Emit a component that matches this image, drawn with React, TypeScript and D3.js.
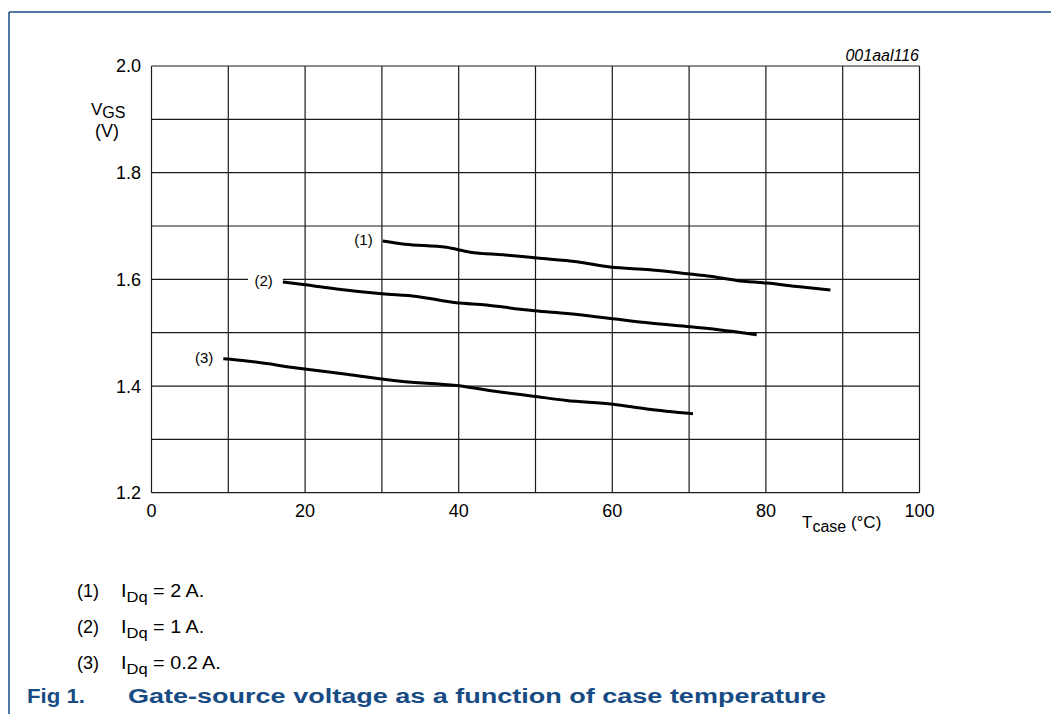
import React, { useEffect, useRef } from 'react';
import * as d3 from 'd3';

// values: [Tcase °C, VGS V]
const curve1 = [
  [30.1, 1.672], [33.0, 1.666], [38.4, 1.660], [41.5, 1.651], [45.8, 1.646],
  [50.2, 1.640], [55.4, 1.633], [59.7, 1.623], [64.9, 1.618], [70.1, 1.610],
  [72.7, 1.606], [76.2, 1.598], [80.1, 1.593], [84.4, 1.586], [88.4, 1.580],
];
const curve2 = [
  [17.1, 1.595], [20.0, 1.590], [24.1, 1.582], [30.0, 1.573], [34.5, 1.568],
  [39.7, 1.556], [43.6, 1.552], [48.0, 1.544], [49.9, 1.541], [54.1, 1.536],
  [60.1, 1.526], [64.9, 1.518], [70.1, 1.511], [73.6, 1.506], [78.8, 1.496],
];
const curve3 = [
  [9.35, 1.451], [12.4, 1.447], [18.9, 1.434], [25.4, 1.422], [32.4, 1.409],
  [39.7, 1.401], [45.4, 1.389], [49.7, 1.381], [54.0, 1.373], [60.1, 1.366],
  [64.5, 1.357], [70.5, 1.348],
];
const curveLabels = ['(1)', '(2)', '(3)'];
const xTicks = [0, 20, 40, 60, 80, 100];
const yTicks = [1.2, 1.4, 1.6, 1.8, 2.0];
const legendText = ['= 2 A.', '= 1 A.', '= 0.2 A.'];

const W = 1051;
const H = 714;
const blue = '#174b84';

export default function App() {
  const ref = useRef<SVGSVGElement>(null);

  useEffect(() => {
    const svg = d3.select(ref.current);
    svg.selectAll('*').remove();

    const x = d3.scaleLinear().domain([0, 100]).range([151.5, 919.5]);
    const y = d3.scaleLinear().domain([1.2, 2.0]).range([492.7, 66]);

    // frame
    svg.append('line').attr('x1', 9).attr('x2', W).attr('y1', 12).attr('y2', 12)
      .attr('stroke', blue).attr('stroke-width', 1.5);
    svg.append('line').attr('x1', 9).attr('x2', 9).attr('y1', 12).attr('y2', H)
      .attr('stroke', blue).attr('stroke-width', 1.5);

    const g = svg.append('g');

    // grid
    g.selectAll('.vg').data(d3.range(0, 101, 10)).enter().append('line')
      .attr('x1', d => x(d)).attr('x2', d => x(d))
      .attr('y1', y(1.2)).attr('y2', y(2.0))
      .attr('stroke', '#1a1a1a').attr('stroke-width', 1.2);
    g.selectAll('.hg').data(d3.range(12, 21).map(d => d / 10)).enter().append('line')
      .attr('x1', x(0)).attr('x2', x(100))
      .attr('y1', d => y(d)).attr('y2', d => y(d))
      .attr('stroke', '#1a1a1a').attr('stroke-width', 1.2);

    const font = 'Arial, "Liberation Sans", Helvetica, sans-serif';

    g.selectAll('.yt').data(yTicks).enter().append('text')
      .attr('x', 141).attr('y', d => y(d)).attr('dy', '0.36em')
      .attr('text-anchor', 'end').attr('font-family', font).attr('font-size', 18)
      .text(d => d.toFixed(1));
    g.selectAll('.xt').data(xTicks).enter().append('text')
      .attr('x', d => x(d)).attr('y', 517)
      .attr('text-anchor', 'middle').attr('font-family', font).attr('font-size', 18)
      .text(d => d);

    // axis titles
    const yt = g.append('text').attr('x', 91).attr('y', 115)
      .attr('font-family', font).attr('font-size', 17);
    yt.append('tspan').text('V');
    yt.append('tspan').attr('dy', 3).attr('font-size', 16).text('GS');
    g.append('text').attr('x', 107).attr('y', 137).attr('text-anchor', 'middle')
      .attr('font-family', font).attr('font-size', 18).text('(V)');

    const xt = g.append('text').attr('x', 802).attr('y', 528)
      .attr('font-family', font).attr('font-size', 17);
    xt.append('tspan').text('T');
    xt.append('tspan').attr('dy', 4).attr('font-size', 16).text('case');
    xt.append('tspan').attr('dy', -4).text(' (°C)');

    g.append('text').attr('x', 919).attr('y', 61).attr('text-anchor', 'end')
      .attr('font-family', font).attr('font-size', 16).attr('font-style', 'italic')
      .text('001aal116');

    // curves
    const line = d3.line<number[]>()
      .x(d => x(d[0])).y(d => y(d[1]))
      .curve(d3.curveMonotoneX);
    const curves = [curve1, curve2, curve3];
    curves.forEach(c => {
      g.append('path').attr('d', line(c) as string)
        .attr('fill', 'none').attr('stroke', '#000').attr('stroke-width', 3)
        .attr('stroke-linejoin', 'round');
    });

    // white gap behind label (2) on the 1.6 grid line
    g.append('rect').attr('x', 248).attr('y', y(1.6) - 2).attr('width', x(curve2[0][0]) - 248)
      .attr('height', 4).attr('fill', '#fff');
    curves.forEach((c, i) => {
      g.append('text')
        .attr('x', x(c[0][0]) - 10).attr('y', y(c[0][1]) - 1).attr('dy', '0.36em')
        .attr('text-anchor', 'end').attr('font-family', font).attr('font-size', 15)
        .text(curveLabels[i]);
    });

    // legend
    legendText.forEach((t, i) => {
      const by = 597 + i * 36;
      g.append('text').attr('x', 77).attr('y', by)
        .attr('font-family', font).attr('font-size', 18).text(curveLabels[i]);
      const tx = g.append('text')
        .attr('transform', `translate(121,${by}) scale(1.1,1)`)
        .attr('font-family', font).attr('font-size', 18);
      tx.append('tspan').text('I');
      tx.append('tspan').attr('dy', 5).attr('font-size', 15).text('Dq');
      tx.append('tspan').attr('dy', -5).text(' ' + t);
    });

    // caption
    g.append('text').attr('x', 27).attr('y', 703)
      .attr('font-family', font).attr('font-size', 20).attr('font-weight', 'bold')
      .attr('textLength', 58).attr('lengthAdjust', 'spacingAndGlyphs')
      .attr('fill', blue).text('Fig 1.');
    g.append('text').attr('x', 128).attr('y', 703)
      .attr('font-family', font).attr('font-size', 20).attr('font-weight', 'bold')
      .attr('textLength', 698).attr('lengthAdjust', 'spacingAndGlyphs')
      .attr('fill', blue).text('Gate-source voltage as a function of case temperature');
  }, []);

  return (
    <div style={{ position: 'absolute', left: 0, top: 0 }}>
      <svg ref={ref} width={W} height={H} style={{ display: 'block', background: '#fff' }} />
    </div>
  );
}
